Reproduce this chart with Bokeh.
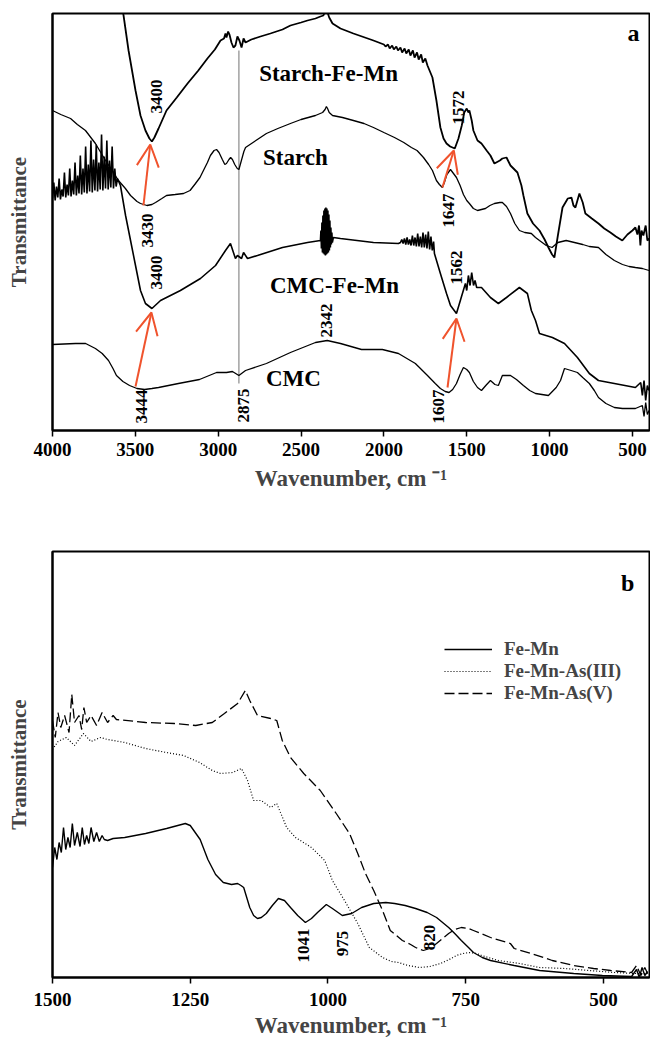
from bokeh.plotting import figure
from bokeh.layouts import column
from bokeh.models import Range1d, Arrow, OpenHead, Legend, LegendItem, FixedTicker
from bokeh.core.properties import value
from bokeh.embed import file_html
from bokeh.resources import INLINE

FONT = "Liberation Serif"

# ---------------- Panel a data (wavenumber, arbitrary transmittance) ----------------
sfm_wn = [3590, 3572, 3541, 3499, 3469, 3439, 3415, 3400, 3385, 3360, 3312, 3250, 3185, 3120, 3065, 3020,
          2986, 2965, 2956, 2950, 2940, 2932, 2920, 2908, 2896, 2884, 2872, 2859, 2847, 2835, 2800, 2745,
          2685, 2612, 2564, 2500, 2461, 2413, 2383, 2365, 2355, 2347, 2340, 2330, 2310, 2262, 2184, 2063,
          2000, 1990, 1975, 1965, 1950, 1940, 1925, 1915, 1900, 1890, 1875, 1865, 1850, 1840, 1825, 1815,
          1800, 1790, 1775, 1765, 1750, 1737, 1707, 1683, 1659, 1640, 1622, 1600, 1572, 1550, 1530, 1515,
          1500, 1490, 1484, 1470, 1460, 1435, 1411, 1380, 1357, 1333, 1300, 1285, 1260, 1236, 1194, 1170,
          1158, 1134, 1100, 1061, 1030, 1007, 985, 971, 950, 922, 890, 868, 856, 844, 832, 820, 800, 784,
          745, 705, 670, 633, 600, 561, 530, 500, 482, 470, 460, 452, 445, 434, 420, 410, 398]
sfm_t = [437, 416, 380, 340, 315, 300, 292, 289, 293, 302, 320, 333, 347, 360, 372, 381,
         390, 392, 397, 393, 399, 396, 388, 383, 385, 394, 390, 383, 392, 388, 391, 394,
         397, 401, 405, 408, 410, 412, 414, 415, 419, 422, 418, 413, 407, 402, 397, 390,
         386, 384, 386, 382, 385, 381, 384, 380, 383, 378, 382, 377, 381, 375, 380, 373,
         378, 371, 376, 368, 372, 365, 353, 330, 303, 292, 287, 284, 282, 292, 305, 318,
         322, 318, 320, 310, 300, 290, 287, 280, 275, 267, 270, 272, 273, 265, 258, 245,
         235, 217, 207, 200, 191, 183, 176, 173, 195, 223, 232, 233, 225, 223, 230, 237, 228, 217,
         212, 207, 202, 198, 194, 190, 196, 200, 203, 196, 205, 185, 200, 195, 205, 190, 192]

st_wn = [4000, 3950, 3891, 3850, 3801, 3741, 3680, 3640, 3602, 3560, 3529, 3490, 3469, 3430, 3400, 3378,
         3340, 3312, 3260, 3209, 3170, 3137, 3110, 3089, 3065, 3047, 3025, 3010, 2995, 2975, 2960, 2950,
         2935, 2925, 2914, 2900, 2885, 2875, 2860, 2845, 2835, 2790, 2709, 2640, 2564, 2500, 2413, 2370,
         2355, 2347, 2340, 2330, 2310, 2250, 2184, 2120, 2063, 2000, 1936, 1880, 1834, 1800, 1761, 1730,
         1707, 1683, 1665, 1647, 1635, 1620, 1598, 1580, 1562, 1540, 1520, 1500, 1484, 1460, 1435, 1411,
         1387, 1360, 1333, 1300, 1285, 1260, 1236, 1210, 1182, 1150, 1110, 1085, 1061, 1020, 985, 950,
         900, 850, 800, 760, 705, 660, 609, 560, 520, 482, 440, 400]
st_t = [320, 316, 312, 306, 300, 287, 270, 260, 250, 242, 235, 229, 227, 225, 226, 228,
        232, 235, 236, 237, 240, 247, 253, 260, 268, 275, 280, 281, 278, 271, 266, 267,
        271, 273, 271, 266, 262, 261, 270, 279, 283, 288, 297, 302, 307, 311, 315, 318,
        321, 324, 322, 318, 315, 313, 310, 307, 303, 298, 293, 288, 283, 280, 273, 266,
        260, 250, 246, 243, 248, 256, 261, 257, 253, 245, 236, 230, 227, 222, 220, 221,
        222, 225, 227, 228, 228, 224, 217, 207, 200, 198, 197, 193, 190, 185, 183, 188,
        190, 188, 186, 184, 183, 176, 170, 166, 164, 163, 162, 160]

cfm_wn = [4000, 3992, 3984, 3976, 3968, 3960, 3952, 3944, 3936, 3928, 3920, 3912, 3904, 3896, 3888, 3880,
          3872, 3864, 3856, 3848, 3840, 3832, 3824, 3816, 3808, 3800, 3792, 3784, 3776, 3768, 3760, 3752,
          3744, 3736, 3728, 3720, 3712, 3704, 3696, 3688, 3680, 3672, 3664, 3656, 3648, 3640, 3632, 3624,
          3616, 3608, 3590, 3559, 3529, 3499, 3469, 3439, 3400, 3348, 3228, 3107, 3016, 2956, 2926, 2896,
          2884, 2859, 2847, 2823, 2763, 2612, 2461, 2383, 2380, 2377, 2374, 2371, 2368, 2365, 2362, 2359,
          2356, 2353, 2350, 2347, 2344, 2341, 2338, 2335, 2332, 2329, 2326, 2323, 2320, 2317, 2314, 2311,
          2305, 2262, 2063, 1912, 1900, 1892, 1884, 1876, 1868, 1860, 1852, 1844, 1836, 1828, 1820, 1812,
          1804, 1796, 1788, 1780, 1772, 1764, 1756, 1748, 1740, 1732, 1724, 1716, 1708, 1700, 1695, 1659,
          1622, 1598, 1562, 1535, 1508, 1500, 1490, 1480, 1470, 1459, 1450, 1440, 1411, 1357, 1309, 1260,
          1182, 1134, 1110, 1085, 1061, 983, 910, 832, 760, 705, 609, 482, 450, 440, 430, 420, 410, 400]
cfm_t = [232, 248, 230, 244, 233, 252, 231, 241, 234, 258, 233, 246, 235, 262, 234, 250,
         236, 268, 235, 255, 237, 275, 236, 262, 238, 284, 237, 266, 239, 290, 238, 271,
         240, 286, 239, 268, 241, 296, 240, 274, 242, 290, 241, 270, 243, 284, 242, 262,
         244, 252, 245, 215, 190, 165, 140, 127, 122, 130, 140, 152, 165, 180, 187, 172,
         175, 172, 178, 172, 175, 183, 188, 190, 200, 182, 208, 178, 215, 177, 220, 176,
         222, 175, 223, 176, 222, 177, 220, 178, 216, 180, 210, 183, 203, 186, 198, 188,
         193, 192, 188, 187, 188, 191, 187, 192, 186, 193, 186, 191, 185, 195, 185, 193,
         184, 197, 184, 194, 183, 198, 183, 196, 182, 199, 181, 194, 180, 189, 177, 157,
         137, 125, 117, 132, 147, 140, 155, 145, 158, 145, 150, 143, 143, 133, 127, 133,
         143, 137, 120, 110, 97, 93, 87, 73, 57, 50, 47, 43, 48, 35, 50, 30, 45, 40]

cmc_wn = [4000, 3861, 3800, 3741, 3700, 3662, 3635, 3614, 3575, 3535, 3490, 3444, 3400, 3360, 3240, 3113,
          3010, 2950, 2914, 2875, 2835, 2709, 2564, 2413, 2342, 2262, 2135, 2009, 1912, 1810, 1737, 1690,
          1659, 1630, 1607, 1585, 1562, 1540, 1520, 1500, 1484, 1460, 1435, 1411, 1385, 1357, 1330, 1309,
          1285, 1236, 1200, 1158, 1120, 1085, 1007, 960, 934, 910, 870, 832, 800, 760, 730, 705, 660, 609,
          560, 482, 440, 430, 420, 410, 400]
cmc_t = [86, 87, 87, 82, 77, 70, 62, 55, 49, 45, 42, 41, 42, 43, 47, 51,
         58, 58, 59, 55, 60, 67, 78, 88, 90, 87, 81, 81, 77, 67, 55, 47,
         42, 39, 38, 41, 47, 56, 63, 61, 58, 49, 43, 40, 45, 50, 46, 45,
         55, 55, 51, 45, 40, 37, 35, 43, 50, 62, 60, 58, 53, 47, 40, 33, 27, 23,
         22, 22, 25, 14, 28, 16, 20]

marker_wn = [2875]
marker_lo = [47]
marker_hi = [380]

arrow_x0 = [3451, 1647, 3499, 1616]
arrow_y0 = [225, 243, 44, 43]
arrow_x1 = [3410, 1578, 3403, 1562]
arrow_y1 = [286, 280, 118, 112]

peak_text_a = ["3400", "1572", "3430", "1647", "3400", "1562", "2342", "3444", "2875", "1607"]
peak_x_a = [3372, 1550, 3427, 1610, 3372, 1562, 2347, 3463, 2847, 1671]
peak_y_a = [334, 323, 200, 220, 158, 163, 110, 24, 25, 24]

name_text_a = ["Starch-Fe-Mn", "Starch", "CMC-Fe-Mn", "CMC"]
name_x_a = [2334, 2534, 2298, 2546]
name_y_a = [357, 273, 145, 52]

ticks_a = [4000, 3500, 3000, 2500, 2000, 1500, 1000, 500]

# ---------------- Panel b data ----------------
fm_wn = [1500, 1496, 1492, 1488, 1484, 1480, 1476, 1472, 1468, 1464, 1460, 1455, 1450, 1446, 1442, 1438,
         1434, 1430, 1425, 1420, 1415, 1410, 1406, 1400, 1390, 1369, 1331, 1293, 1259, 1250, 1232, 1218,
         1204, 1190, 1175, 1164, 1158, 1153, 1142, 1135, 1128, 1121, 1112, 1101, 1090, 1079, 1068, 1055,
         1041, 1030, 1019, 1003, 992, 974, 957, 939, 917, 895, 879, 860, 841, 820, 803, 781, 770, 758,
         745, 736, 720, 705, 662, 616, 554, 502, 449, 440, 435, 430, 425, 420]
fm_t = [110, 130, 118, 135, 125, 150, 128, 140, 130, 154, 132, 145, 131, 150, 133, 142,
        134, 150, 136, 145, 136, 142, 138, 137, 139, 140, 144, 149, 154, 152, 138, 118,
        103, 95, 93, 94, 92, 90, 70, 62, 59, 60, 64, 72, 79, 77, 70, 62,
        55, 59, 65, 73, 69, 62, 64, 70, 74, 75, 74, 72, 69, 65, 60, 50, 44, 37,
        30, 25, 20, 17, 12, 7, 4, 2, 1, 8, 0, 10, 2, 6]

as3_wn = [1500, 1490, 1475, 1460, 1444, 1430, 1413, 1400, 1369, 1331, 1293, 1262, 1233, 1210, 1195, 1173,
          1157, 1146, 1135, 1121, 1104, 1093, 1075, 1059, 1030, 1006, 992, 970, 946, 925, 901, 885,
          872, 855, 834, 815, 796, 780, 767, 755, 743, 730, 721, 691, 652, 616, 571, 525, 480, 442, 420]
as3_t = [228, 236, 240, 232, 244, 236, 240, 238, 235, 229, 225, 222, 215, 207, 204, 205,
         209, 197, 177, 177, 170, 174, 150, 140, 130, 117, 97, 77, 54, 30, 20, 16,
         15, 12, 10, 11, 14, 18, 22, 24, 25, 24, 22, 17, 14, 10, 9, 7, 5, 4, 4]

as5_wn = [1500, 1495, 1490, 1485, 1478, 1470, 1465, 1460, 1452, 1447, 1443, 1438, 1430, 1420, 1410, 1400,
          1390, 1384, 1331, 1279, 1240, 1210, 1188, 1164, 1150, 1142, 1128, 1104, 1093, 1083, 1068, 1044,
          1014, 985, 961, 946, 932, 917, 901, 887, 865, 850, 841, 827, 815, 803, 790, 781, 770, 758,
          745, 736, 705, 669, 662, 631, 593, 554, 518, 487, 449, 440, 432, 425, 420]
as5_t = [257, 240, 265, 250, 262, 245, 283, 255, 262, 248, 270, 255, 262, 252, 265, 255,
         262, 258, 255, 254, 252, 255, 264, 274, 287, 277, 262, 259, 257, 237, 220, 204,
         187, 164, 144, 124, 104, 87, 67, 47, 37, 33, 30, 27, 29, 34, 40, 44, 48, 50,
         49, 47, 40, 34, 29, 24, 17, 12, 9, 7, 5, 12, 2, 10, 4]

peak_text_b = ["1041", "975", "820"]
peak_x_b = [1044, 974, 816]
peak_y_b = [32, 34, 40]

ticks_b = [1500, 1250, 1000, 750, 500]


def style_axes(p, xticks, tick_standoff, label_standoff):
    p.xgrid.grid_line_color = None
    p.ygrid.grid_line_color = None
    p.outline_line_color = "black"
    p.outline_line_width = 2
    xa = p.xaxis[0]
    xa.ticker = FixedTicker(ticks=xticks)
    xa.axis_label = "Wavenumber, cm \u207b\u00b9"
    xa.axis_label_text_font = FONT
    xa.axis_label_text_font_style = "bold"
    xa.axis_label_text_font_size = "23px"
    xa.axis_label_standoff = label_standoff
    xa.major_label_text_font = FONT
    xa.major_label_text_font_style = "bold"
    xa.major_label_text_font_size = "19px"
    xa.major_label_text_color = "black"
    xa.major_label_standoff = tick_standoff
    xa.major_tick_in = 0
    xa.major_tick_out = 6
    xa.major_tick_line_width = 1.5
    xa.minor_tick_in = 0
    xa.minor_tick_out = 0
    xa.axis_line_width = 2
    ya = p.yaxis[0]
    ya.ticker = FixedTicker(ticks=[])
    ya.axis_label = "Transmittance"
    ya.axis_label_text_font = FONT
    ya.axis_label_text_font_style = "bold"
    ya.axis_label_text_font_size = "21px"
    ya.axis_label_standoff = 22
    ya.major_tick_in = 0
    ya.major_tick_out = 0
    ya.minor_tick_in = 0
    ya.minor_tick_out = 0
    ya.axis_line_width = 2


# ---------------- Panel a ----------------
pa = figure(width=650, height=510, x_range=Range1d(4000, 397), y_range=Range1d(0, 417),
            output_backend="svg", toolbar_location=None,
            min_border_left=52, min_border_right=1, min_border_top=13, min_border_bottom=80)
style_axes(pa, ticks_a, 6, 7)

pa.segment(x0=marker_wn, y0=marker_lo, x1=marker_wn, y1=marker_hi, line_color="#8a8a8a", line_width=1.2)
pa.line(sfm_wn, sfm_t, line_color="black", line_width=1.8)
pa.line(st_wn, st_t, line_color="black", line_width=1.3)
pa.line(cfm_wn, cfm_t, line_color="black", line_width=1.6)
pa.line(cmc_wn, cmc_t, line_color="black", line_width=1.3)

for x0, y0, x1, y1 in zip(arrow_x0, arrow_y0, arrow_x1, arrow_y1):
    pa.add_layout(Arrow(end=OpenHead(size=22, line_color="#f0532d", line_width=2),
                        x_start=x0, y_start=y0, x_end=x1, y_end=y1,
                        line_color="#f0532d", line_width=2))

pa.text(x=peak_x_a, y=peak_y_a, text=peak_text_a, angle=1.5708, text_align="center",
        text_baseline="middle", text_font=value(FONT), text_font_style="bold",
        text_font_size="17px", text_color="black")
pa.text(x=name_x_a, y=name_y_a, text=name_text_a, text_align="center", text_baseline="middle",
        text_font=value(FONT), text_font_style="bold", text_font_size="23px", text_color="black")
pa.text(x=[494], y=[398], text=["a"], text_align="center", text_baseline="middle",
        text_font=value(FONT), text_font_style="bold", text_font_size="24px", text_color="black")

# ---------------- Panel b ----------------
pb = figure(width=650, height=530, x_range=Range1d(1500, 416.5), y_range=Range1d(0, 426),
            output_backend="svg", toolbar_location=None,
            min_border_left=52, min_border_right=1, min_border_top=41, min_border_bottom=63)
style_axes(pb, ticks_b, 9, 4)

r_fm = pb.line(fm_wn, fm_t, line_color="black", line_width=1.4)
r_as3 = pb.line(as3_wn, as3_t, line_color="black", line_width=1.2, line_dash="1 2")
r_as5 = pb.line(as5_wn, as5_t, line_color="black", line_width=1.3, line_dash="10 4")

pb.text(x=peak_x_b, y=peak_y_b, text=peak_text_b, angle=1.5708, text_align="center",
        text_baseline="middle", text_font=value(FONT), text_font_style="bold",
        text_font_size="17px", text_color="black")
pb.text(x=[456], y=[395], text=["b"], text_align="center", text_baseline="middle",
        text_font=value(FONT), text_font_style="bold", text_font_size="24px", text_color="black")

legend = Legend(items=[LegendItem(label="Fe-Mn", renderers=[r_fm]),
                       LegendItem(label="Fe-Mn-As(III)", renderers=[r_as3]),
                       LegendItem(label="Fe-Mn-As(V)", renderers=[r_as5])],
                location=(392, 273), padding=0, margin=0, spacing=0,
                glyph_width=48, glyph_height=20, label_height=20, label_standoff=12,
                label_text_font=FONT, label_text_font_style="bold", label_text_font_size="19px",
                border_line_color=None, background_fill_alpha=0)
pb.add_layout(legend)

layout = column(pa, pb, spacing=0)
open("out.html", "w").write(file_html(layout, INLINE))
